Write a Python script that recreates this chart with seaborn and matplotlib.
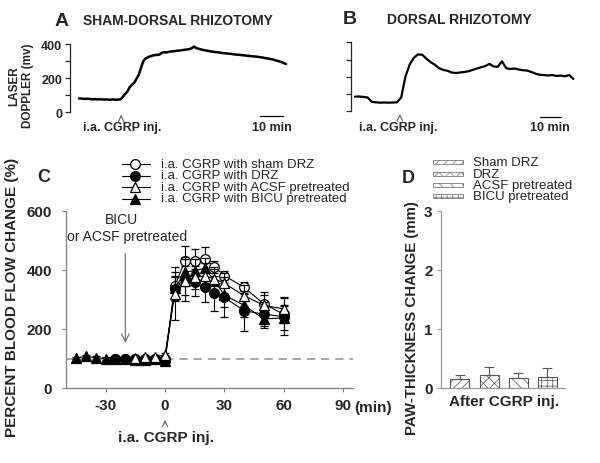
import numpy as np
import pandas as pd
import matplotlib.pyplot as plt
import seaborn as sns
from matplotlib.patches import Rectangle
from matplotlib.lines import Line2D

# ---------------- data ----------------
# A: laser doppler trace, sham-dorsal rhizotomy (one reading per minute)
trace_a = [80, 79, 78, 77, 78, 76, 75, 76, 74, 75, 74, 73, 74, 72, 73, 74, 72, 73, 74,
           88, 105, 120, 145, 160, 172, 195, 220, 262, 300,
           315, 322, 328, 332, 335, 336, 338, 348, 352, 350, 354, 356,
           357, 359, 361, 362, 364, 366, 368, 370, 375, 385,
           376, 372, 368, 365, 362, 360, 357, 355, 353, 352,
           350, 348, 346, 345, 343, 342, 340, 338, 337, 336,
           334, 333, 331, 330, 328, 327, 326, 324, 322, 320,
           317, 315, 312, 310, 306, 302, 298, 294, 288, 282]
# B: laser doppler trace, dorsal rhizotomy (one reading every 2 min)
trace_b = [85, 86, 83, 80, 55, 52, 50, 51, 50, 51, 52, 80, 200, 270, 310, 330, 328,
           305, 285, 270, 250, 240, 235, 225, 222, 225, 228, 232, 240, 248, 255,
           262, 275, 260, 258, 290, 250, 245, 248, 242, 238, 236, 228, 218, 212,
           210, 208, 210, 205, 207, 203, 210, 188]

# C: percent blood flow change (mean, SEM)
sham_t = [-25, -20, -15, -10, -5, 0, 5, 10, 15, 20, 25, 30, 40, 50, 60]
sham_y = [100, 100, 100, 100, 100, 100, 347, 429, 432, 437, 411, 381, 341, 285, 250]
sham_e = [4, 4, 4, 4, 4, 4, 46, 53, 40, 40, 20, 16, 18, 40, 30]

drz_t = [-25, -20, -15, -10, -5, 0, 5, 10, 15, 20, 25, 30, 40, 50, 60]
drz_y = [100, 100, 98, 98, 99, 92, 336, 370, 358, 341, 321, 307, 262, 250, 242]
drz_e = [5, 5, 5, 5, 5, 6, 40, 74, 45, 51, 60, 68, 68, 40, 63]

acsf_t = [-15, -10, -5, 0, 5, 10, 15, 20, 25, 30, 40, 50, 60]
acsf_y = [103, 104, 106, 112, 320, 364, 375, 380, 370, 355, 313, 280, 268]
acsf_e = [4, 4, 4, 5, 90, 50, 40, 45, 40, 35, 35, 35, 42]

bicu_t = [-45, -40, -35, -30, -25, -20, -15, -10, -5, 0, 5, 10, 15, 20, 25, 30, 40, 50, 60]
bicu_y = [102, 107, 103, 100, 98, 98, 95, 96, 97, 92, 338, 392, 398, 406, 364, 315, 280, 234, 238]
bicu_e = [4, 4, 4, 4, 4, 4, 4, 4, 4, 4, 40, 45, 40, 35, 40, 40, 40, 32, 40]

# D: paw-thickness change
paw_groups = ['Sham DRZ', 'DRZ', 'ACSF pretreated', 'BICU pretreated']
paw_mean = [0.15, 0.22, 0.17, 0.19]
paw_err = [0.07, 0.14, 0.08, 0.15]
paw_hatch = ['////', 'xxx', '\\\\\\', '+++']

# ---------------- style ----------------
sns.set_style('ticks')
plt.rcParams['font.family'] = ['Liberation Sans', 'DejaVu Sans']
plt.rcParams['font.weight'] = 'bold'
plt.rcParams['axes.unicode_minus'] = False
plt.rcParams['hatch.linewidth'] = 0.5
plt.rcParams['hatch.color'] = '#555555'

W, H = 600, 464
fig = plt.figure(figsize=(6, 4.64), dpi=100)


def px_axes(l, t, r, b):
    return fig.add_axes([l / W, 1 - b / H, (r - l) / W, (b - t) / H])


def trace_axes(ax, labels):
    ax.set_ylim(0, 400)
    for s in ['top', 'right', 'bottom']:
        ax.spines[s].set_visible(False)
    ax.spines['left'].set_linewidth(0.9)
    ax.set_xticks([])
    ax.set_yticks([0, 100, 200, 300, 400])
    ax.set_yticklabels(['0', '', '200', '', '400'] if labels else [''] * 5)
    ax.tick_params(axis='y', length=3.5, width=0.9, labelsize=9, pad=2)
    ax.set_xlabel('')
    ax.set_ylabel('')
    ax.patch.set_alpha(0)


# ---------- panel A ----------
ax_a = px_axes(70, 45, 292, 113)
df_a = pd.DataFrame({'t': np.arange(len(trace_a)), 'v': trace_a})
sns.lineplot(data=df_a, x='t', y='v', ax=ax_a, color='black', lw=1.8)
ax_a.set_xlim(-9 / 2.3, 213 / 2.3)
trace_axes(ax_a, True)
ax_a.annotate('', xy=(18.3, 0), xytext=(18.3, -47),
              arrowprops=dict(arrowstyle='->', color='#666666', lw=0.8), annotation_clip=False)
ax_a.text(18.7, -88, 'i.a. CGRP inj.', ha='center', va='center', fontsize=9, clip_on=False)
ax_a.plot([78.7, 88.7], [-23, -23], color='black', lw=0.9, clip_on=False)
ax_a.text(83.7, -88, '10 min', ha='center', va='center', fontsize=9, clip_on=False)

# ---------- panel B ----------
ax_b = px_axes(351, 43.3, 575, 112.3)
df_b = pd.DataFrame({'t': np.arange(len(trace_b)) * 2, 'v': trace_b})
sns.lineplot(data=df_b, x='t', y='v', ax=ax_b, color='black', lw=1.6)
ax_b.set_xlim(-4 / 2.1, 220 / 2.1)
trace_axes(ax_b, False)
ax_b.annotate('', xy=(21.4, 0), xytext=(21.4, -40),
              arrowprops=dict(arrowstyle='->', color='#666666', lw=0.8), annotation_clip=False)
ax_b.text(20.5, -91, 'i.a. CGRP inj.', ha='center', va='center', fontsize=9, clip_on=False)
ax_b.plot([88, 98], [-33, -33], color='black', lw=0.9, clip_on=False)
ax_b.text(93, -91, '10 min', ha='center', va='center', fontsize=9, clip_on=False)

# ---------- panel C ----------
ax_c = px_axes(66, 212, 353, 389)
ax_c.axhline(100, color='#999999', lw=1.2, ls=(0, (5, 3.5)), zorder=1)
series = [
    (sham_t, sham_y, sham_e, 'o', 'white', 7),
    (bicu_t, bicu_y, bicu_e, '^', 'black', 7.5),
    (drz_t, drz_y, drz_e, 'o', 'black', 7),
    (acsf_t, acsf_y, acsf_e, '^', 'white', 7.5),
]
for i, (t, y, e, m, fc, ms) in enumerate(series):
    ax_c.errorbar(t, y, yerr=e, fmt='-' + m, color='black', lw=0.8, ms=ms,
                  mfc=fc, mec='black', mew=0.9, ecolor='black', elinewidth=0.8,
                  capsize=3, capthick=0.8, zorder=3 + i)
ax_c.set_xlim(-50, 95)
ax_c.set_ylim(0, 600)
ax_c.set_xticks([-30, 0, 30, 60, 90])
ax_c.set_yticks([0, 200, 400, 600])
for s in ['top', 'right']:
    ax_c.spines[s].set_visible(False)
for s in ['left', 'bottom']:
    ax_c.spines[s].set_color('#808080')
    ax_c.spines[s].set_linewidth(0.9)
ax_c.tick_params(axis='both', length=3, width=0.8, color='#808080', labelsize=11)
ax_c.tick_params(axis='y', pad=7)
ax_c.tick_params(axis='x', pad=4)
ax_c.patch.set_alpha(0)
ax_c.annotate('', xy=(-20, 143), xytext=(-20, 465),
              arrowprops=dict(arrowstyle='->', color='#777777', lw=0.9, mutation_scale=14))
ax_c.text(-22, 573, 'BICU', ha='center', va='center', fontsize=10, fontweight='normal')
ax_c.text(-19, 516, 'or ACSF pretreated', ha='center', va='center', fontsize=10, fontweight='normal')
xt = ax_c.get_xaxis_transform()
ax_c.annotate('', xy=(0, -0.165), xytext=(0, -0.22), xycoords=xt, textcoords=xt,
              arrowprops=dict(arrowstyle='->', color='#666666', lw=0.8), annotation_clip=False)
ax_c.text(0.5, -0.277, 'i.a. CGRP inj.', transform=xt, ha='center', va='center', fontsize=11)

# ---------- panel D ----------
ax_d = px_axes(441, 212, 565, 389)
df_d = pd.DataFrame({'group': paw_groups, 'mean': paw_mean})
sns.barplot(data=df_d, x='group', y='mean', ax=ax_d, color='white', width=0.655,
            edgecolor='#555555', linewidth=0.8, errorbar=None)
for p, h in zip(ax_d.patches, paw_hatch):
    p.set_hatch(h)
    p.set_facecolor('white')
ax_d.errorbar(np.arange(len(paw_mean)), paw_mean, yerr=[np.zeros(len(paw_err)), paw_err],
              fmt='none', ecolor='#555555', elinewidth=0.8, capsize=3.5, capthick=0.8)
ax_d.set_xlim(-0.655, 3.62)
ax_d.set_ylim(0, 3)
ax_d.set_xticks([])
ax_d.set_yticks([0, 1, 2, 3])
ax_d.set_xlabel('')
ax_d.set_ylabel('')
for s in ['top', 'right']:
    ax_d.spines[s].set_visible(False)
for s in ['left', 'bottom']:
    ax_d.spines[s].set_color('#999999')
    ax_d.spines[s].set_linewidth(0.9)
ax_d.tick_params(axis='y', length=3, width=0.8, color='#999999', labelsize=11, pad=3)
ax_d.patch.set_alpha(0)

# ---------- overlay for labels and legends (pixel coordinates) ----------
ov = fig.add_axes([0, 0, 1, 1])
ov.set_xlim(0, W)
ov.set_ylim(H, 0)
ov.axis('off')

ov.text(62, 21, 'A', fontsize=14, ha='center', va='center')
ov.text(83, 21, 'SHAM-DORSAL RHIZOTOMY', fontsize=10, ha='left', va='center')
ov.text(350, 20, 'B', fontsize=14, ha='center', va='center')
ov.text(387, 20, 'DORSAL RHIZOTOMY', fontsize=10, ha='left', va='center')
ov.text(21, 86, 'LASER\nDOPPLER (mv)', fontsize=8.5, rotation=90, ha='center', va='center',
        multialignment='center')
ov.text(44, 178, 'C', fontsize=13, ha='center', va='center')
ov.text(408, 179, 'D', fontsize=13, ha='center', va='center')
ov.text(12, 297, 'PERCENT BLOOD FLOW CHANGE (%)', fontsize=11, rotation=90, ha='center', va='center')
ov.text(412, 318, 'PAW-THICKNESS CHANGE (mm)', fontsize=10.8, rotation=90, ha='center', va='center')
ov.text(354, 408, '(min)', fontsize=11, ha='left', va='center')
ov.text(504, 402, 'After CGRP inj.', fontsize=11, ha='center', va='center')

leg_c = ['i.a. CGRP with sham DRZ', 'i.a. CGRP with DRZ',
         'i.a. CGRP with ACSF pretreated', 'i.a. CGRP with BICU pretreated']
leg_style = [('o', 'white', 7), ('o', 'black', 7), ('^', 'white', 7.5), ('^', 'black', 7.5)]
for yy, lab, (m, fc, ms) in zip([165, 176.5, 188, 199.5], leg_c, leg_style):
    ov.add_line(Line2D([121.7, 150], [yy, yy], color='black', lw=0.8))
    ov.add_line(Line2D([135], [yy], marker=m, ms=ms, mfc=fc, mec='black', mew=0.9, ls='none'))
    ov.text(160.7, yy, lab, fontsize=9.5, fontweight='normal', ha='left', va='center')

for yy, lab, h in zip([163.3, 174.7, 186, 197.3], paw_groups, paw_hatch):
    ov.add_patch(Rectangle((433, yy - 2), 30, 4, facecolor='white', edgecolor='#777777',
                           lw=0.6, hatch=h))
    ov.text(472.7, yy, lab, fontsize=9.5, fontweight='normal', ha='left', va='center')

fig.savefig('out.png', dpi=100)
